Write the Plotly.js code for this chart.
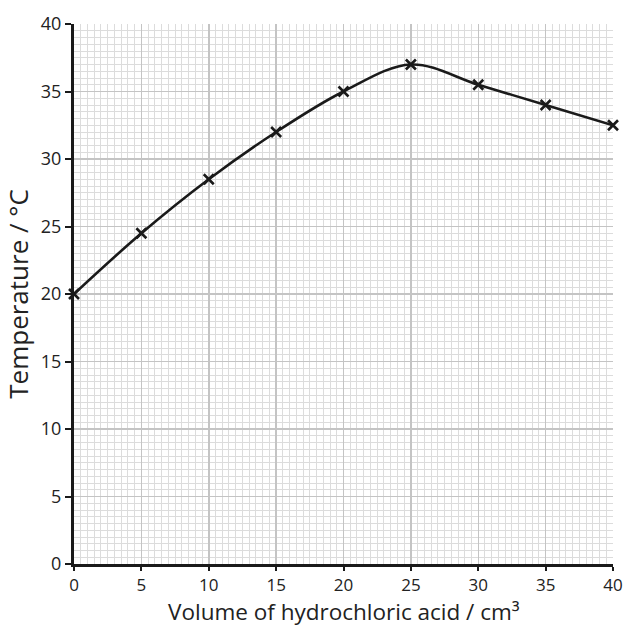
<!DOCTYPE html>
<html>
<head>
<meta charset="utf-8">
<script src="https://cdn.plot.ly/plotly-3.0.1.min.js"></script>
<style>html,body{margin:0;padding:0;background:#fff;}#chart{width:628px;height:625px;}</style>
</head>
<body>
<div id="chart"></div>
<script>
var volume = [0, 5, 10, 15, 20, 25, 30, 35, 40];
var temperature = [20, 24.5, 28.5, 32, 35, 37, 35.5, 34, 32.5];
var tickVals = [0, 5, 10, 15, 20, 25, 30, 35, 40];
var xTitle = 'Volume of hydrochloric acid / cm³';
var yTitle = 'Temperature / °C';

var font = "Open Sans, Lato, sans-serif";
var trace = {
  x: volume, y: temperature, mode: 'lines+markers', type: 'scatter',
  line: {shape: 'spline', smoothing: 1, color: '#1a1a1a', width: 2.6},
  marker: {symbol: 'x-thin', size: 10, color: '#1a1a1a', line: {width: 2.6, color: '#1a1a1a'}},
  cliponaxis: false, showlegend: false
};
function axis() {
  return {
    range: [0, 40], tickvals: tickVals, ticktext: tickVals.map(String),
    showgrid: true, gridcolor: '#c4c4c4', gridwidth: 1.5,
    minor: {dtick: 0.5, showgrid: true, gridcolor: '#dcdcdc', gridwidth: 1, ticks: ''},
    zeroline: false, showline: true, linecolor: '#1a1a1a', linewidth: 3,
    ticks: 'outside', ticklen: 6, tickwidth: 2, tickcolor: '#1a1a1a',
    tickfont: {family: font, size: 18, color: '#222'},
    fixedrange: true
  };
}
var xa = axis();
xa.ticklen = 4;
xa.tickfont = {family: font, size: 17, color: '#222'};
var ya = axis();
ya.title = {text: yTitle, font: {family: font, size: 26, color: '#222'}, standoff: 6};
var layout = {
  width: 628, height: 625,
  margin: {l: 74, r: 15, t: 24, b: 61},
  paper_bgcolor: '#fff', plot_bgcolor: '#fff',
  xaxis: xa, yaxis: ya,
  annotations: [{
    text: xTitle, xref: 'paper', yref: 'paper', x: 0.5, y: 0,
    xanchor: 'center', yanchor: 'top', yshift: -31, showarrow: false,
    borderpad: 0, font: {family: font, size: 22.5, color: '#222'}
  }]
};
Plotly.newPlot('chart', [trace], layout, {displayModeBar: false, staticPlot: true});
</script>
</body>
</html>
